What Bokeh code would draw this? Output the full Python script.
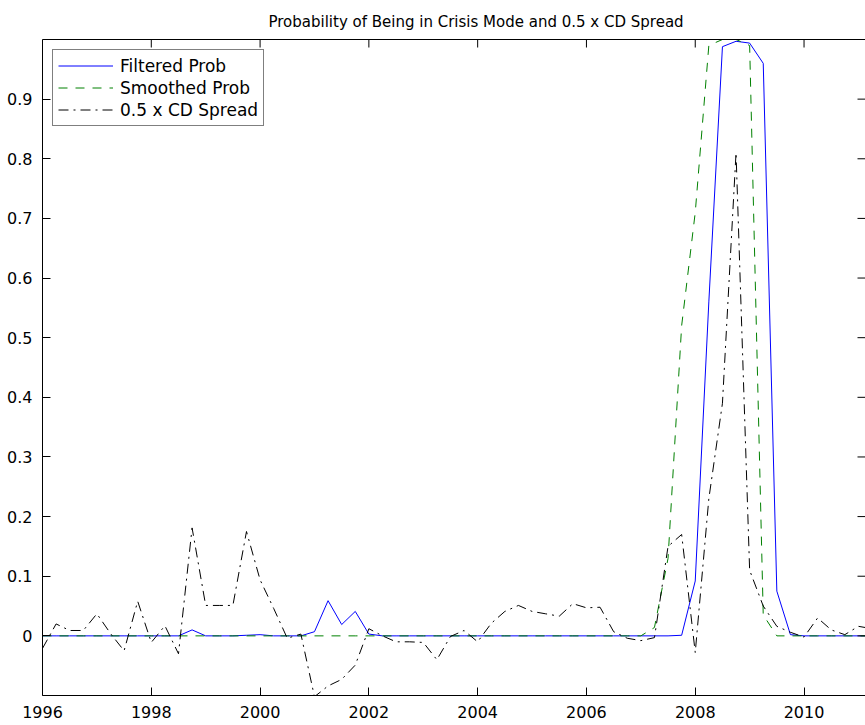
import math
from bokeh.plotting import figure
from bokeh.models import (Range1d, FixedTicker, NumeralTickFormatter, LinearAxis,
                          Legend, LegendItem)
from bokeh.embed import file_html
from bokeh.resources import INLINE

# ---------------- data (quarterly) ----------------
dates = [1996.00, 1996.25, 1996.50, 1996.75, 1997.00, 1997.25, 1997.50, 1997.75,
         1998.00, 1998.25, 1998.50, 1998.75, 1999.00, 1999.25, 1999.50, 1999.75,
         2000.00, 2000.25, 2000.50, 2000.75, 2001.00, 2001.25, 2001.50, 2001.75,
         2002.00, 2002.25, 2002.50, 2002.75, 2003.00, 2003.25, 2003.50, 2003.75,
         2004.00, 2004.25, 2004.50, 2004.75, 2005.00, 2005.25, 2005.50, 2005.75,
         2006.00, 2006.25, 2006.50, 2006.75, 2007.00, 2007.25, 2007.50, 2007.75,
         2008.00, 2008.25, 2008.50, 2008.75, 2009.00, 2009.25, 2009.50, 2009.75,
         2010.00, 2010.25, 2010.50, 2010.75, 2011.00, 2011.25]

filtered_prob = [0.000, 0.000, 0.000, 0.000, 0.000, 0.000, 0.000, 0.000,
                 0.000, 0.000, 0.000, 0.010, 0.000, 0.000, 0.000, 0.001,
                 0.002, 0.000, 0.000, 0.000, 0.007, 0.059, 0.019, 0.041,
                 0.003, 0.000, 0.000, 0.000, 0.000, 0.000, 0.000, 0.000,
                 0.000, 0.000, 0.000, 0.000, 0.000, 0.000, 0.000, 0.000,
                 0.000, 0.000, 0.000, 0.000, 0.000, 0.000, 0.000, 0.001,
                 0.092, 0.560, 0.988, 0.997, 0.994, 0.960, 0.075, 0.002,
                 0.000, 0.000, 0.000, 0.000, 0.000, 0.000]

smoothed_prob = [0.000, 0.000, 0.000, 0.000, 0.000, 0.000, 0.000, 0.000,
                 0.000, 0.000, 0.000, 0.000, 0.000, 0.000, 0.000, 0.000,
                 0.000, 0.000, 0.000, 0.000, 0.000, 0.000, 0.000, 0.000,
                 0.000, 0.000, 0.000, 0.000, 0.000, 0.000, 0.000, 0.000,
                 0.000, 0.000, 0.000, 0.000, 0.000, 0.000, 0.000, 0.000,
                 0.000, 0.000, 0.000, 0.000, 0.000, 0.014, 0.130, 0.520,
                 0.710, 0.990, 1.000, 1.000, 0.990, 0.035, 0.000, 0.000,
                 0.000, 0.000, 0.000, 0.000, 0.000, 0.000]

cd_spread_half = [-0.021, 0.020, 0.009, 0.009, 0.037, 0.004, -0.025, 0.058,
                  -0.011, 0.017, -0.030, 0.181, 0.051, 0.051, 0.051, 0.175,
                  0.094, 0.046, -0.004, 0.003, -0.102, -0.084, -0.073, -0.049,
                  0.012, 0.000, -0.010, -0.010, -0.011, -0.040, -0.001, 0.009,
                  -0.010, 0.021, 0.041, 0.051, 0.041, 0.037, 0.033, 0.054,
                  0.047, 0.048, 0.007, -0.004, -0.008, -0.003, 0.150, 0.170,
                  -0.028, 0.230, 0.390, 0.810, 0.110, 0.050, 0.016, 0.006,
                  -0.002, 0.030, 0.010, 0.002, 0.016, 0.012]

x_ticks = [1996, 1998, 2000, 2002, 2004, 2006, 2008, 2010]
y_ticks = [0, 0.1, 0.2, 0.3, 0.4, 0.5, 0.6, 0.7, 0.8, 0.9]
x_limits = (1996, 2011.13)
y_limits = (-0.1, 1.0)

series_labels = ["Filtered Prob", "Smoothed Prob", "0.5 x CD Spread"]
title_text = "Probability of Being in Crisis Mode and 0.5 x CD Spread"

FONT = "DejaVu Sans"
TICK_LEN = 8

p = figure(width=865, height=725,
           x_range=Range1d(*x_limits), y_range=Range1d(*y_limits),
           output_backend="svg", toolbar_location=None,
           min_border_left=42, min_border_right=0,
           min_border_top=39, min_border_bottom=30,
           title=title_text)
p.outline_line_color = None
p.xgrid.visible = False
p.ygrid.visible = False
p.background_fill_color = "white"
p.border_fill_color = "white"

p.title.text_font = FONT
p.title.text_font_size = "15px"
p.title.text_font_style = "normal"
p.title.text_color = "black"
p.title.align = "left"
p.title.offset = 226
p.title.standoff = 17

r1 = p.line(dates, filtered_prob, line_color="#0000ff", line_width=1)
r2 = p.line(dates, smoothed_prob, line_color="#008000", line_width=1,
            line_dash="9 8")
r3 = p.line(dates, cd_spread_half, line_color="black", line_width=1,
            line_dash="10 5 2 5")


def style_axis(ax, ticks):
    ax.ticker = FixedTicker(ticks=ticks)
    ax.major_tick_in = TICK_LEN
    ax.major_tick_out = 0
    ax.minor_tick_line_color = None
    ax.major_tick_line_color = "black"
    ax.axis_line_color = "black"
    ax.axis_line_width = 1
    ax.major_label_text_font = FONT
    ax.major_label_text_font_size = "16px"
    ax.major_label_text_color = "black"


style_axis(p.xaxis[0], x_ticks)
p.xaxis[0].major_label_standoff = 10
style_axis(p.yaxis[0], y_ticks)
p.yaxis[0].formatter = NumeralTickFormatter(format="0.[0]")
p.yaxis[0].major_label_standoff = 10

# top border of the box (axis line only, no ticks / labels)
top_axis = LinearAxis(ticker=FixedTicker(ticks=[]))
top_axis.major_tick_line_color = None
top_axis.minor_tick_line_color = None
top_axis.axis_line_color = "black"
top_axis.major_label_standoff = 0
p.add_layout(top_axis, "above")

# inward tick marks on the top and right sides of the box
p.ray(x=x_ticks, y=[y_limits[1]] * len(x_ticks), length=TICK_LEN,
      length_units="screen", angle=-math.pi / 2, line_color="black", line_width=1)
p.ray(x=[x_limits[1]] * len(y_ticks), y=y_ticks, length=TICK_LEN,
      length_units="screen", angle=math.pi, line_color="black", line_width=1)

legend = Legend(items=[LegendItem(label=series_labels[0], renderers=[r1]),
                       LegendItem(label=series_labels[1], renderers=[r2]),
                       LegendItem(label=series_labels[2], renderers=[r3])],
                location="top_left")
legend.margin = 10
legend.padding = 5
legend.spacing = 1
legend.glyph_width = 55
legend.glyph_height = 21
legend.label_height = 21
legend.label_standoff = 7
legend.label_text_font = FONT
legend.label_text_font_size = "17px"
legend.label_text_color = "black"
legend.border_line_color = "black"
legend.border_line_width = 1
legend.background_fill_color = "white"
legend.background_fill_alpha = 1.0
p.add_layout(legend)

open("out.html", "w").write(file_html(p, INLINE))
